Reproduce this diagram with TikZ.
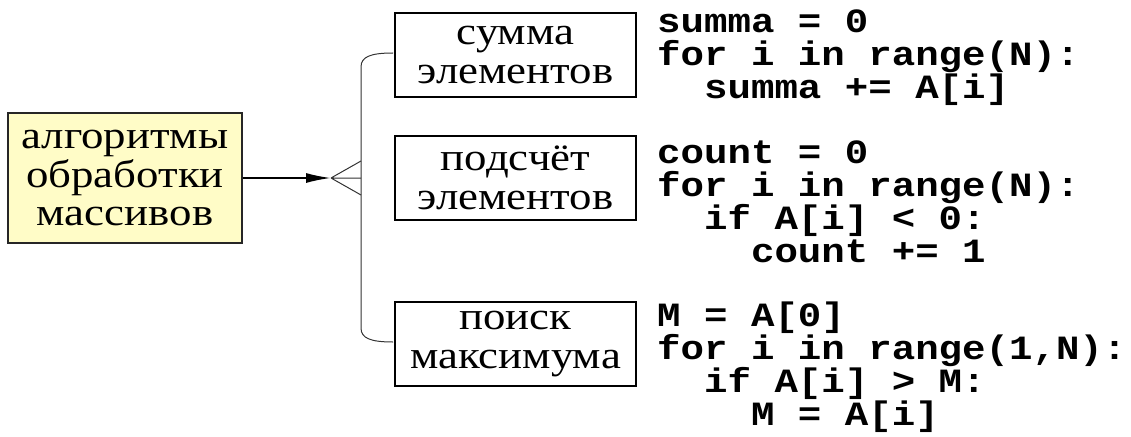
\documentclass[tikz,border=0pt]{standalone}
\usepackage{fontspec}
\setmainfont{Liberation Serif}[FakeStretch=1.15]
\setmonofont{Liberation Mono}[FakeStretch=1.15]
\usetikzlibrary{arrows.meta}
\newcommand{\txtfont}{\fontsize{39}{38.5}\selectfont}
\newcommand{\cdfont}{\ttfamily\bfseries\fontsize{34}{33}\selectfont\lineskiplimit=-100pt\relax}
\tikzset{
  box/.style={draw, line width=1.1pt, inner sep=0pt, minimum width=241pt, minimum height=84pt, align=center, font=\txtfont},
  mainbox/.style={draw=black!85, fill=yellow!22, line width=1.1pt, inner sep=0pt, minimum width=234pt, minimum height=130pt, align=center, font=\txtfont},
  code/.style={anchor=base west, inner sep=0pt, font=\cdfont},
  thin/.style={line width=1pt, black!80}
}
\begin{document}
\begin{tikzpicture}[x=1pt,y=-1pt]
\useasboundingbox (0,0) rectangle (1131,436);
\node[mainbox] (main) at (125,178) {алгоритмы\\обработки\\массивов};
\node[box] (b1) at (515.5,55) {сумма\\элементов};
\node[box] (b2) at (515.5,178) {подсчёт\\элементов};
\node[box] (b3) at (515.5,344) {поиск\\максимума};
\coordinate (tip) at (331,178);
\coordinate (f1) at (361,161);
\coordinate (f2) at (361,178);
\coordinate (f3) at (361,195);
\coordinate (t1) at (393,53);
\coordinate (t3) at (393,342);
\draw[line width=1.8pt, -{Latex[length=25pt,width=10pt]}] (main.east) -- (tip);
\draw[thin] (tip) -- (f1) (tip) -- (f2) (tip) -- (f3);
\draw[thin] (t1) .. controls (370,53) and (361,57) .. (361,67) -- (361,328) .. controls (361,338) and (370,342) .. (t3);
\node[code] (c1) at (657,33) {\vtop{\hbox{summa = 0}\hbox{for i in range(N):}\hbox{\ \ summa += A[i]}}};
\node[code] (c2) at (657,163) {\vtop{\hbox{count = 0}\hbox{for i in range(N):}\hbox{\ \ if A[i] < 0:}\hbox{\ \ \ \ count += 1}}};
\node[code] (c3) at (657,326) {\vtop{\hbox{M = A[0]}\hbox{for i in range(1,N):}\hbox{\ \ if A[i] > M:}\hbox{\ \ \ \ M = A[i]}}};
\end{tikzpicture}
\end{document}
